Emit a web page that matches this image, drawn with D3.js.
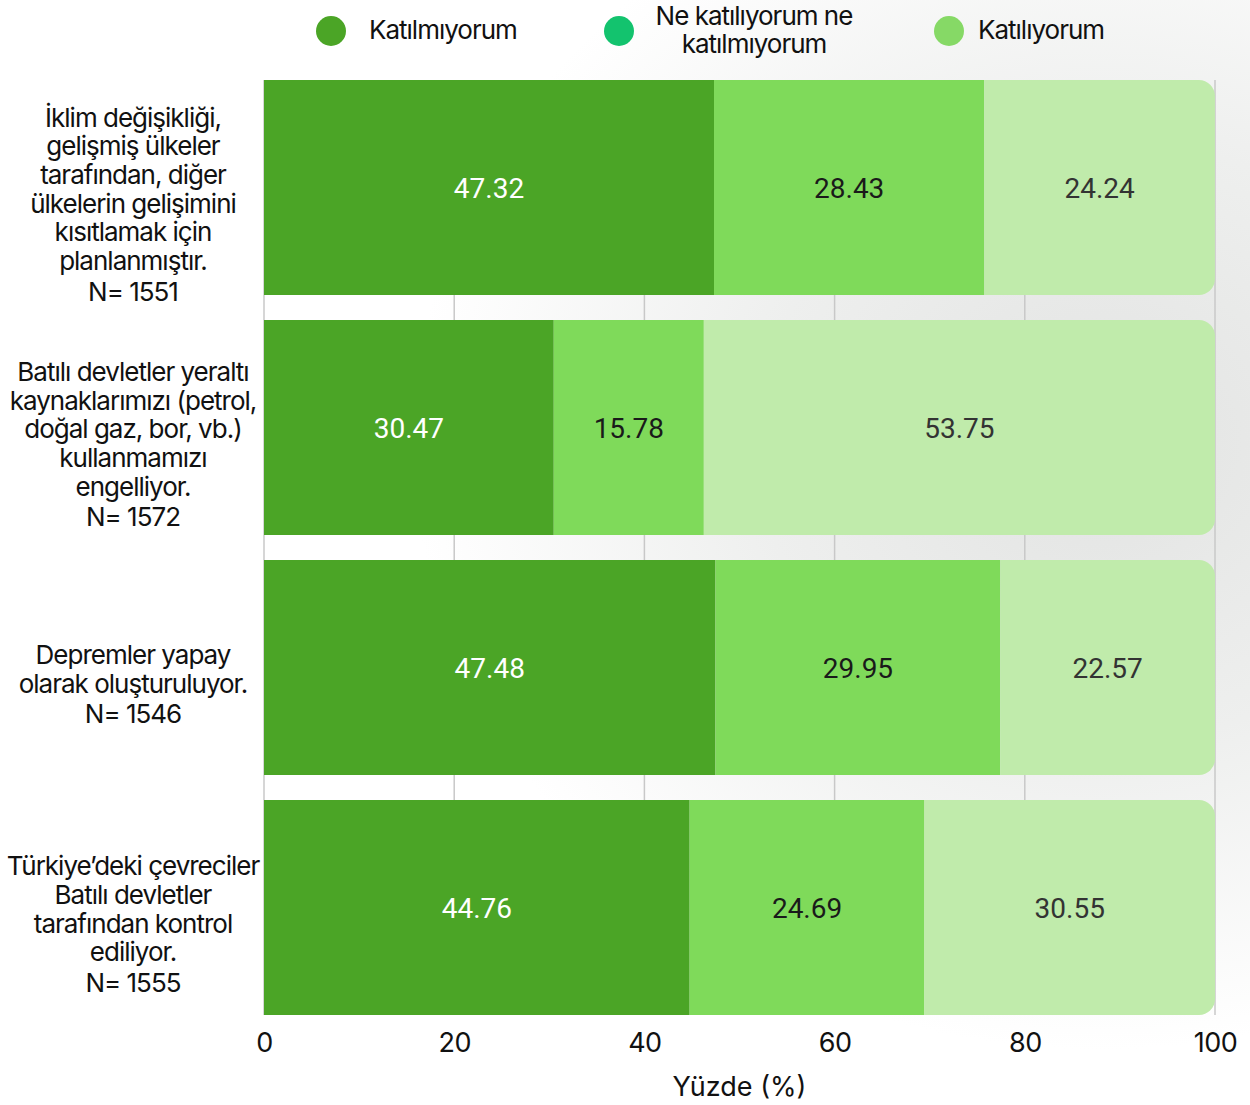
<!DOCTYPE html>
<html>
<head>
<meta charset="utf-8">
<script src="https://cdn.jsdelivr.net/npm/d3@7"></script>
<style>
  html, body { margin: 0; padding: 0; background: #fff; }
  svg { display: block; }
</style>
</head>
<body>
<svg id="chart"></svg>
<script>
// Data
const categories = [
  ['İklim değişikliği,', 'gelişmiş ülkeler', 'tarafından, diğer', 'ülkelerin gelişimini', 'kısıtlamak için', 'planlanmıştır.', 'N= 1551'],
  ['Batılı devletler yeraltı', 'kaynaklarımızı (petrol,', 'doğal gaz, bor, vb.)', 'kullanmamızı', 'engelliyor.', 'N= 1572'],
  ['Depremler yapay', 'olarak oluşturuluyor.', 'N= 1546'],
  ['Türkiye’deki çevreciler', 'Batılı devletler', 'tarafından kontrol', 'ediliyor.', 'N= 1555']
];
const seriesNames = ['Katılmıyorum', 'Ne katılıyorum ne katılmıyorum', 'Katılıyorum'];
const disagree = [47.32, 30.47, 47.48, 44.76];
const neutral = [28.43, 15.78, 29.95, 24.69];
const agree = [24.24, 53.75, 22.57, 30.55];
const xTicks = [0, 20, 40, 60, 80, 100];

const width = 1250, height = 1105;
const margin = { top: 80, right: 35, bottom: 90, left: 264 };

const svg = d3.select('#chart').attr('width', width).attr('height', height);

// soft grey wash on the right like the reference background
const defs = svg.append('defs');
const grad = defs.append('radialGradient').attr('id', 'wash')
  .attr('cx', '88%').attr('cy', '40%').attr('r', '55%');
grad.append('stop').attr('offset', '0%').attr('stop-color', '#e2e3e2');
grad.append('stop').attr('offset', '50%').attr('stop-color', '#eeefee');
grad.append('stop').attr('offset', '100%').attr('stop-color', '#ffffff');
svg.append('rect').attr('width', width).attr('height', height).attr('fill', '#fff');
svg.append('rect').attr('width', width).attr('height', height).attr('fill', 'url(#wash)');

const x = d3.scaleLinear().domain([0, 100]).range([margin.left, width - margin.right]);
const y = d3.scaleBand()
  .domain(d3.range(categories.length))
  .range([margin.top, height - margin.bottom])
  .paddingInner(25 / 240)
  .paddingOuter(0);

// gridlines
svg.append('g')
  .selectAll('line')
  .data(xTicks)
  .join('line')
  .attr('x1', d => x(d)).attr('x2', d => x(d))
  .attr('y1', margin.top).attr('y2', height - margin.bottom)
  .attr('stroke', '#c8c8c8')
  .attr('stroke-width', 1.5);

// stacked bars
const rows = categories.map((c, i) => ({ i, values: [disagree[i], neutral[i], agree[i]] }));
const fills = ['#4ba526', '#7fda5a', '#c0ebab'];
const labelColors = ['#ffffff', '#1a1a1a', '#333333'];
const r = 16;

rows.forEach(row => {
  let start = 0;
  const y0 = y(row.i), bh = y.bandwidth();
  row.values.forEach((v, k) => {
    const x0 = x(start), x1 = x(start + v);
    const g = svg.append('g');
    if (k === row.values.length - 1) {
      // last segment: rounded right corners
      const p = d3.path();
      p.moveTo(x0, y0);
      p.lineTo(x1 - r, y0);
      p.arcTo(x1, y0, x1, y0 + r, r);
      p.lineTo(x1, y0 + bh - r);
      p.arcTo(x1, y0 + bh, x1 - r, y0 + bh, r);
      p.lineTo(x0, y0 + bh);
      p.closePath();
      g.append('path').attr('d', p.toString()).attr('fill', fills[k]);
    } else {
      g.append('rect')
        .attr('x', x0).attr('y', y0)
        .attr('width', x1 - x0).attr('height', bh)
        .attr('fill', fills[k]);
    }
    g.append('text')
      .attr('x', (x0 + x1) / 2)
      .attr('y', y0 + bh / 2)
      .attr('dy', '0.36em')
      .attr('text-anchor', 'middle')
      .attr('font-family', 'Roboto, sans-serif')
      .attr('font-size', 28)
      .attr('fill', labelColors[k])
      .text(v.toFixed(2));
    start += v;
  });
});

// category labels
const lineH = 28.7;
categories.forEach((lines, i) => {
  const cy = y(i) + y.bandwidth() / 2 + 16;
  const t = svg.append('text')
    .attr('text-anchor', 'middle')
    .attr('font-family', 'Inter, sans-serif')
    .attr('font-size', 26)
    .attr('letter-spacing', -1)
    .attr('fill', '#111');
  lines.forEach((ln, j) => {
    t.append('tspan')
      .attr('x', 133)
      .attr('y', cy + (j - (lines.length - 1) / 2) * lineH + (j === lines.length - 1 ? 2 : 0))
      .attr('dy', '0.35em')
      .text(ln);
  });
});

// x axis
const xAxis = svg.append('g')
  .attr('transform', `translate(0,${height - margin.bottom})`)
  .call(d3.axisBottom(x).tickValues(xTicks).tickSize(0).tickPadding(18));
xAxis.select('.domain').remove();
xAxis.selectAll('text')
  .attr('font-family', 'Inter, sans-serif')
  .attr('font-size', 27)
  .attr('letter-spacing', -0.5)
  .attr('fill', '#111');

svg.append('text')
  .attr('x', (x(0) + x(100)) / 2)
  .attr('y', 1087)
  .attr('dy', '0.35em')
  .attr('text-anchor', 'middle')
  .attr('font-family', 'Inter, sans-serif')
  .attr('font-size', 27)
  .attr('fill', '#111')
  .text('Yüzde (%)');

// legend
const legendColors = ['#4ba526', '#13c36e', '#86d966'];
const legendItems = [
  { cx: 331, tx: 369, lines: [seriesNames[0]], anchor: 'start' },
  { cx: 619, tx: 754, lines: ['Ne katılıyorum ne', 'katılmıyorum'], anchor: 'middle' },
  { cx: 949, tx: 978, lines: [seriesNames[2]], anchor: 'start' }
];
legendItems.forEach((d, i) => {
  svg.append('ellipse')
    .attr('cx', d.cx).attr('cy', 31)
    .attr('rx', 15).attr('ry', 15)
    .attr('fill', legendColors[i]);
  const t = svg.append('text')
    .attr('text-anchor', d.anchor)
    .attr('font-family', 'Inter, sans-serif')
    .attr('font-size', 26)
    .attr('letter-spacing', -1)
    .attr('fill', '#111');
  d.lines.forEach((ln, j) => {
    t.append('tspan')
      .attr('x', d.tx)
      .attr('y', 30 + (j - (d.lines.length - 1) / 2) * 28)
      .attr('dy', '0.35em')
      .text(ln);
  });
});
</script>
</body>
</html>
